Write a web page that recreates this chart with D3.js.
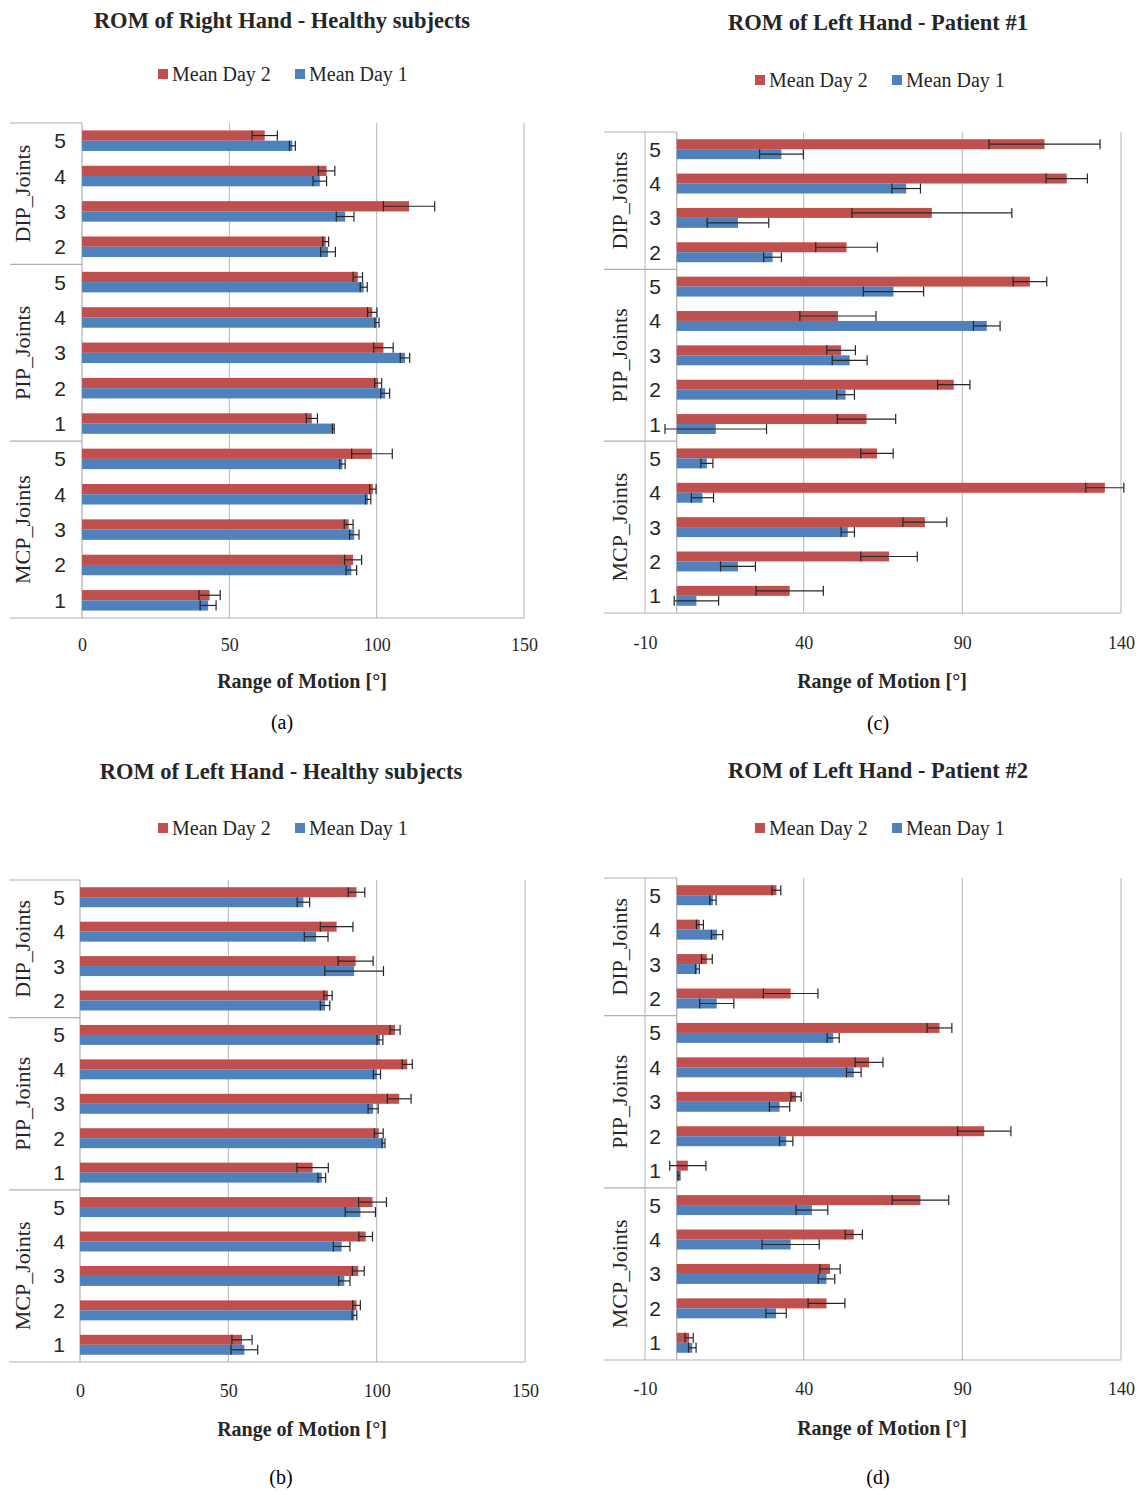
<!DOCTYPE html>
<html>
<head>
<meta charset="utf-8">
<script src="https://cdn.jsdelivr.net/npm/d3@7"></script>
<style>
  body { margin: 0; background: #fff; }
  svg { display: block; }
  .grid line { stroke: #b5b5b5; stroke-width: 1; }
  .frame { stroke: #b0b0b0; stroke-width: 1.2; fill: none; }
  .err { stroke: #262626; stroke-width: 1.2; fill: none; }
</style>
</head>
<body>
<div id="chart"></div>
<script>
// categories, top to bottom as drawn
var groupNames = ["DIP_Joints", "PIP_Joints", "MCP_Joints"];
var groupOf = [0, 0, 0, 0, 1, 1, 1, 1, 1, 2, 2, 2, 2, 2];
var jointLabels = ["5", "4", "3", "2", "5", "4", "3", "2", "1", "5", "4", "3", "2", "1"];
var seriesNames = ["Mean Day 2", "Mean Day 1"];

var healthyTicks = [0, 50, 100, 150];
var patientTicks = [-10, 40, 90, 140];

// (a) right hand, healthy
var aDay2 = [62, 83, 111, 82.7, 93.6, 98.5, 102.3, 100.5, 78, 98.4, 98.7, 90.5, 92, 43.3];
var aDay2Err = [4.3, 2.8, 8.7, 1, 1.6, 1.6, 3.3, 1.2, 1.9, 6.9, 1.1, 1.5, 2.9, 3.6];
var aDay1 = [71.4, 80.7, 89.3, 83.5, 95.6, 100.1, 109.6, 102.9, 85.3, 88.4, 97.1, 92.4, 91.4, 42.8];
var aDay1Err = [1, 2.3, 3, 2.5, 1.2, 0.7, 1.6, 1.5, 0.3, 0.9, 0.9, 1.6, 1.8, 2.7];

// (b) left hand, healthy
var bDay2 = [93.2, 86.5, 92.9, 83.6, 106.2, 110.3, 107.6, 100.7, 78.4, 98.6, 96.3, 93.8, 93.2, 54.6];
var bDay2Err = [2.8, 5.5, 5.9, 1.4, 1.7, 1.7, 4, 1.5, 5.3, 4.7, 2.3, 2, 1.3, 3.4];
var bDay1 = [75.3, 79.6, 92.4, 82.6, 101.1, 100.1, 98.8, 102.3, 81.5, 94.5, 88.2, 89.1, 92.5, 55.4];
var bDay1Err = [2.1, 4, 9.9, 1.6, 1, 1.2, 1.7, 0.5, 1.3, 5.1, 2.8, 1.9, 0.8, 4.5];

// (c) left hand, patient #1
var cDay2 = [115.9, 122.9, 80.4, 53.5, 111.3, 50.8, 51.8, 87.3, 59.8, 63.1, 134.9, 78.2, 66.9, 35.6];
var cDay2Err = [17.5, 6.5, 25.2, 9.7, 5.3, 12, 4.5, 5.1, 9.2, 5.1, 6, 6.9, 8.9, 10.6];
var cDay1 = [33.0, 72.3, 19.3, 30.2, 68.3, 97.7, 54.5, 53.2, 12.3, 9.5, 8.1, 53.9, 19.3, 6.2];
var cDay1Err = [6.9, 4.5, 9.7, 2.8, 9.5, 4.2, 5.5, 2.8, 16, 1.9, 3.5, 2.1, 5.5, 7];

// (d) left hand, patient #2
var dDay2 = [31.4, 7.3, 9.5, 35.9, 82.8, 60.6, 37.6, 96.9, 3.5, 76.8, 55.8, 48.3, 47.2, 3.9];
var dDay2Err = [1.4, 1.1, 1.7, 8.6, 3.9, 4.4, 1.6, 8.4, 5.7, 8.9, 2.7, 3.2, 5.8, 1.3];
var dDay1 = [11.4, 12.7, 6.5, 12.6, 49.3, 55.8, 32.4, 34.5, 0.7, 42.6, 35.9, 47.2, 31.3, 4.9];
var dDay1Err = [1, 1.8, 0.6, 5.4, 1.9, 2.3, 3.2, 2.1, 0.3, 5, 9, 2.6, 3.2, 1.2];

var colors = ["#C0504D", "#4F81BD"];
var serif = "'Liberation Serif', 'Times New Roman', serif";
var sans = "'Liberation Sans', Arial, sans-serif";

var svg = d3.select("#chart").append("svg")
  .attr("width", 1143)
  .attr("height", 1495);

var panels = [
  { title: "ROM of Right Hand - Healthy subjects", caption: "(a)", cx: 282, axisCx: 302,
    day2: aDay2, day2Err: aDay2Err, day1: aDay1, day1Err: aDay1Err,
    ticks: healthyTicks, range: [82, 524], top: 123, bottom: 618, boxLeft: 10,
    numX: 60, groupX: 22, legendX: 158,
    titleY: 20, legendY: 74, tickY: 645, axisY: 681, captionY: 722 },
  { title: "ROM of Left Hand - Patient #1", caption: "(c)", cx: 878, axisCx: 882,
    day2: cDay2, day2Err: cDay2Err, day1: cDay1, day1Err: cDay1Err,
    ticks: patientTicks, range: [645, 1121], top: 132, bottom: 613, boxLeft: 604,
    numX: 655, groupX: 619, legendX: 755,
    titleY: 22, legendY: 80, tickY: 643, axisY: 681, captionY: 723 },
  { title: "ROM of Left Hand - Healthy subjects", caption: "(b)", cx: 281, axisCx: 302,
    day2: bDay2, day2Err: bDay2Err, day1: bDay1, day1Err: bDay1Err,
    ticks: healthyTicks, range: [80, 525], top: 880, bottom: 1362, boxLeft: 9,
    numX: 59, groupX: 22, legendX: 158,
    titleY: 771, legendY: 828, tickY: 1391, axisY: 1429, captionY: 1477 },
  { title: "ROM of Left Hand - Patient #2", caption: "(d)", cx: 878, axisCx: 882,
    day2: dDay2, day2Err: dDay2Err, day1: dDay1, day1Err: dDay1Err,
    ticks: patientTicks, range: [645, 1121], top: 878, bottom: 1360, boxLeft: 604,
    numX: 655, groupX: 619, legendX: 755,
    titleY: 770, legendY: 828, tickY: 1389, axisY: 1428, captionY: 1477 }
];

panels.forEach(drawPanel);

function drawPanel(p) {
  var g = svg.append("g");
  var ticks = p.ticks;
  var x = d3.scaleLinear()
    .domain([ticks[0], ticks[ticks.length - 1]])
    .range(p.range);
  var y = d3.scaleBand()
    .domain(d3.range(jointLabels.length))
    .range([p.top, p.bottom]);
  var barH = y.bandwidth() * 0.29;
  var x0 = x(0);

  // title
  g.append("text")
    .attr("x", p.cx).attr("y", p.titleY)
    .attr("text-anchor", "middle").attr("dominant-baseline", "central")
    .style("font-family", serif).style("font-weight", "bold").style("font-size", "22.5px")
    .style("fill", "#262626")
    .text(p.title);

  // legend
  var leg = g.append("g").attr("transform", "translate(" + p.legendX + "," + p.legendY + ")");
  seriesNames.forEach(function(name, i) {
    var lx = i * 137;
    leg.append("rect")
      .attr("x", lx).attr("y", -5).attr("width", 10).attr("height", 10)
      .attr("fill", colors[i]);
    leg.append("text")
      .attr("x", lx + 14).attr("y", 0)
      .attr("dominant-baseline", "central")
      .style("font-family", serif).style("font-size", "20px").style("fill", "#262626")
      .text(name);
  });

  // gridlines (skip 0, that is the category axis)
  g.append("g").attr("class", "grid")
    .selectAll("line")
    .data(ticks.filter(function(t) { return t !== 0; }))
    .enter().append("line")
    .attr("x1", function(d) { return x(d); }).attr("x2", function(d) { return x(d); })
    .attr("y1", p.top).attr("y2", p.bottom);

  // category axis + bottom line
  g.append("line").attr("class", "frame")
    .attr("x1", x0).attr("x2", x0).attr("y1", p.top).attr("y2", p.bottom);
  g.append("line").attr("class", "frame")
    .attr("x1", p.boxLeft).attr("x2", x(ticks[ticks.length - 1]))
    .attr("y1", p.bottom).attr("y2", p.bottom);
  g.append("line").attr("class", "frame")
    .attr("x1", p.boxLeft).attr("x2", x0).attr("y1", p.top).attr("y2", p.top);

  // group separators
  var starts = [0, 4, 9];
  [4, 9].forEach(function(i) {
    g.append("line").attr("class", "frame")
      .attr("x1", p.boxLeft).attr("x2", x0)
      .attr("y1", y(i)).attr("y2", y(i));
  });

  // group labels
  groupNames.forEach(function(name, gi) {
    var n = groupOf.filter(function(v) { return v === gi; }).length;
    var cy = y(starts[gi]) + n * y.bandwidth() / 2;
    g.append("text")
      .attr("transform", "translate(" + p.groupX + "," + cy + ") rotate(-90)")
      .attr("text-anchor", "middle").attr("dominant-baseline", "central")
      .style("font-family", serif).style("font-size", "22px").style("fill", "#262626")
      .text(name);
  });

  // joint numbers
  g.selectAll("text.joint")
    .data(jointLabels)
    .enter().append("text")
    .attr("class", "joint")
    .attr("x", p.numX)
    .attr("y", function(d, i) { return y(i) + y.bandwidth() / 2; })
    .attr("text-anchor", "middle").attr("dominant-baseline", "central")
    .style("font-family", sans).style("font-size", "21px").style("fill", "#262626")
    .text(function(d) { return d; });

  // bars
  var series = [
    { vals: p.day2, errs: p.day2Err, off: -barH },
    { vals: p.day1, errs: p.day1Err, off: 0 }
  ];
  series.forEach(function(s, si) {
    var sg = g.append("g");
    sg.selectAll("rect")
      .data(s.vals)
      .enter().append("rect")
      .attr("x", function(d) { return Math.min(x(d), x0); })
      .attr("y", function(d, i) { return y(i) + y.bandwidth() / 2 + s.off; })
      .attr("width", function(d) { return Math.abs(x(d) - x0); })
      .attr("height", barH)
      .attr("fill", colors[si]);

    // error bars
    var eg = g.append("g").attr("class", "err");
    s.vals.forEach(function(v, i) {
      var cy = y(i) + y.bandwidth() / 2 + s.off + barH / 2;
      var e = s.errs[i];
      var xl = x(v - e), xr = x(v + e);
      eg.append("line").attr("x1", xl).attr("x2", xr).attr("y1", cy).attr("y2", cy);
      eg.append("line").attr("x1", xl).attr("x2", xl).attr("y1", cy - barH / 2).attr("y2", cy + barH / 2);
      eg.append("line").attr("x1", xr).attr("x2", xr).attr("y1", cy - barH / 2).attr("y2", cy + barH / 2);
    });
  });

  // value axis labels (plain hyphen for negatives, as in the original)
  var xAxis = d3.axisBottom(x).tickValues(ticks).tickSize(0)
    .tickFormat(function(d) { return String(d); });
  var ax = g.append("g")
    .attr("transform", "translate(0," + p.tickY + ")")
    .call(xAxis);
  ax.select(".domain").remove();
  ax.selectAll("text")
    .attr("y", 0).attr("dy", null)
    .attr("dominant-baseline", "central")
    .style("font-family", serif).style("font-size", "18px").style("fill", "#262626");

  // axis title
  g.append("text")
    .attr("x", p.axisCx).attr("y", p.axisY)
    .attr("text-anchor", "middle").attr("dominant-baseline", "central")
    .style("font-family", serif).style("font-weight", "bold").style("font-size", "20px")
    .style("fill", "#262626")
    .text("Range of Motion [°]");

  // caption
  g.append("text")
    .attr("x", p.cx).attr("y", p.captionY)
    .attr("text-anchor", "middle").attr("dominant-baseline", "central")
    .style("font-family", serif).style("font-size", "20px").style("fill", "#000")
    .text(p.caption);
}
</script>
</body>
</html>
